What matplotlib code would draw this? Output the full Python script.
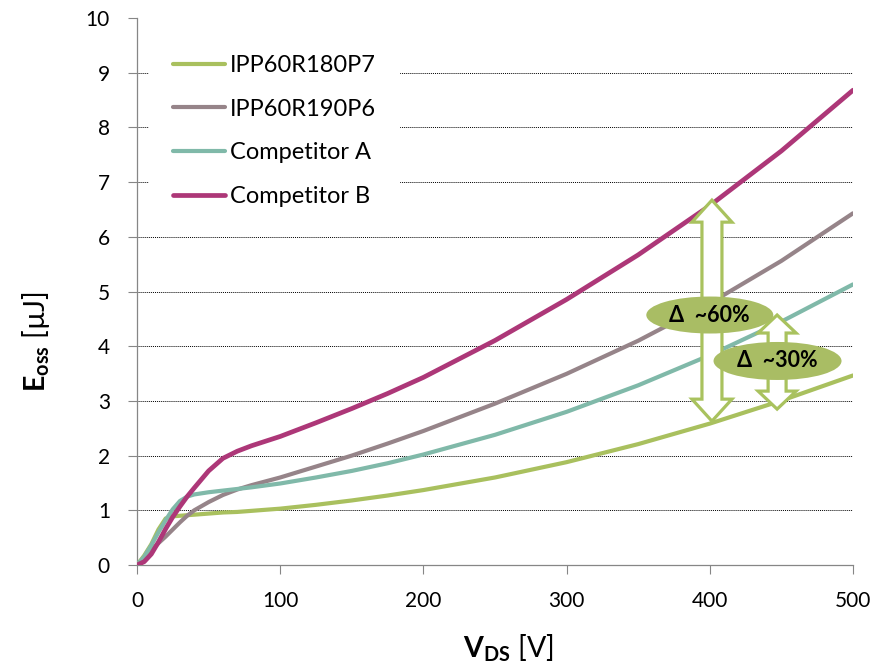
"""
Eoss vs VDS comparison chart (IPP60R180P7 vs IPP60R190P6 vs competitors).
"""

import matplotlib
matplotlib.use("Agg")  # non-interactive backend
import matplotlib.pyplot as plt
import numpy as np
from matplotlib.patches import Ellipse, Polygon

plt.rcParams["font.family"] = ["Lato", "DejaVu Sans"]
plt.rcParams["mathtext.fontset"] = "custom"
plt.rcParams["mathtext.rm"] = "Lato"
plt.rcParams["mathtext.bf"] = "Lato:bold"

# ---- data ----
vds = [0, 5, 10, 15, 20, 25, 30, 35, 40, 50, 60, 70, 80, 100, 125, 150,
       175, 200, 250, 300, 350, 400, 450, 500]

eoss_p7 = [0, 0.17, 0.38, 0.65, 0.85, 0.89, 0.90, 0.91, 0.92, 0.94, 0.96,
           0.97, 0.99, 1.03, 1.10, 1.18, 1.27, 1.37, 1.60, 1.88, 2.21,
           2.585, 3.005, 3.465]
eoss_p6 = [0, 0.12, 0.27, 0.40, 0.52, 0.65, 0.78, 0.90, 1.00, 1.15, 1.28,
           1.38, 1.46, 1.60, 1.80, 2.00, 2.22, 2.45, 2.95, 3.495, 4.10,
           4.785, 5.56, 6.43]
eoss_a = [0, 0.15, 0.36, 0.60, 0.82, 1.02, 1.17, 1.25, 1.29, 1.33, 1.36,
          1.39, 1.42, 1.49, 1.60, 1.72, 1.86, 2.02, 2.38, 2.80, 3.285,
          3.835, 4.45, 5.13]
eoss_b = [0, 0.06, 0.20, 0.42, 0.66, 0.88, 1.07, 1.25, 1.41, 1.72, 1.95,
          2.08, 2.18, 2.35, 2.60, 2.86, 3.135, 3.43, 4.105, 4.855, 5.67,
          6.57, 7.57, 8.68]

series = [
    ("IPP60R180P7", eoss_p7, "#a9c05e", 3.0),
    ("IPP60R190P6", eoss_p6, "#968489", 3.0),
    ("Competitor A", eoss_a, "#80b9a9", 3.0),
    ("Competitor B", eoss_b, "#ad3778", 3.4),
]

x_ticks = [0, 100, 200, 300, 400, 500]
y_ticks = list(range(0, 11))

# delta annotations: (arrow x, arrow bottom, arrow top, label, oval x, oval y)
delta_60 = (401.5, 2.63, 6.67, "Δ  ~60%", 400.0, 4.57)
delta_30 = (447.0, 2.85, 4.57, "Δ  ~30%", 447.3, 3.73)

ARROW_GREEN = "#a9c25e"
OVAL_GREEN = "#a9bd64"
SPINE_GRAY = "#868686"


def add_double_arrow(ax, x, y0, y1, half_shaft, half_head, head_len):
    """Hollow double-headed block arrow, sized in pixels."""
    (cx, yb), (_, yt) = ax.transData.transform([(x, y0), (x, y1)])
    pts = [
        (cx, yt), (cx + half_head, yt - head_len), (cx + half_shaft, yt - head_len),
        (cx + half_shaft, yb + head_len), (cx + half_head, yb + head_len),
        (cx, yb), (cx - half_head, yb + head_len), (cx - half_shaft, yb + head_len),
        (cx - half_shaft, yt - head_len), (cx - half_head, yt - head_len),
    ]
    pts = ax.transData.inverted().transform(pts)
    ax.add_patch(Polygon(pts, closed=True, facecolor="white",
                         edgecolor=ARROW_GREEN, linewidth=2.3, zorder=4))


def add_oval(ax, cx, cy, label, w_px=128, h_px=38):
    px_per_x = ax.transData.transform((1, 0))[0] - ax.transData.transform((0, 0))[0]
    px_per_y = ax.transData.transform((0, 1))[1] - ax.transData.transform((0, 0))[1]
    ax.add_patch(Ellipse((cx, cy), w_px / px_per_x, h_px / px_per_y,
                         facecolor=OVAL_GREEN, edgecolor="none", zorder=5))
    ax.text(cx, cy, label, ha="center", va="center", fontsize=15.5,
            fontweight="bold", color="black", zorder=6)


fig = plt.figure(figsize=(8.87, 6.64), dpi=100)
ax = fig.add_axes([137 / 887, 1 - 565 / 664, 716 / 887, 547 / 664])

for label, vals, color, lw in series:
    ax.plot(vds, vals, color=color, linewidth=lw, label=label,
            solid_capstyle="round", solid_joinstyle="round", zorder=3)

ax.set_xlim(0, 500)
ax.set_ylim(0, 10)
ax.set_xticks(x_ticks)
ax.set_yticks(y_ticks)
ax.tick_params(axis="both", direction="out", length=6.5, width=0.8,
               color=SPINE_GRAY, labelsize=15)
ax.tick_params(axis="y", pad=13)
ax.tick_params(axis="x", pad=12)

for side in ("top", "right"):
    ax.spines[side].set_visible(False)
for side in ("left", "bottom"):
    ax.spines[side].set_color(SPINE_GRAY)
    ax.spines[side].set_linewidth(0.9)

ax.yaxis.grid(True, color="black", linestyle=(0, (1, 1)), linewidth=0.7)
ax.get_ygridlines()[-1].set_visible(False)
ax.get_ygridlines()[0].set_visible(False)
ax.set_axisbelow(True)

ax.set_xlabel(r"$\mathbf{V_{DS}}$ [V]", fontsize=20.5)
ax.set_ylabel(r"$\mathbf{E_{oss}}$ [µJ]", fontsize=20.5)
ax.xaxis.set_label_coords(0.518, -0.124)
ax.yaxis.set_label_coords(-0.119, 0.408)

leg = ax.legend(loc="upper left", bbox_to_anchor=(0.0168, 0.9755),
                borderaxespad=0, fontsize=17, frameon=True, fancybox=False,
                framealpha=1, facecolor="white", edgecolor="white",
                handlelength=2.2, handletextpad=0.21, labelspacing=0.96,
                borderpad=1.0)
leg.set_zorder(5)

add_double_arrow(ax, delta_60[0], delta_60[1], delta_60[2], 10, 20, 22)
add_double_arrow(ax, delta_30[0], delta_30[1], delta_30[2], 9, 19, 18)
add_oval(ax, delta_60[4], delta_60[5], delta_60[3], w_px=127, h_px=37)
add_oval(ax, delta_30[4], delta_30[5], delta_30[3], w_px=128, h_px=38)

fig.savefig("out.png", dpi=100)
plt.close(fig)
